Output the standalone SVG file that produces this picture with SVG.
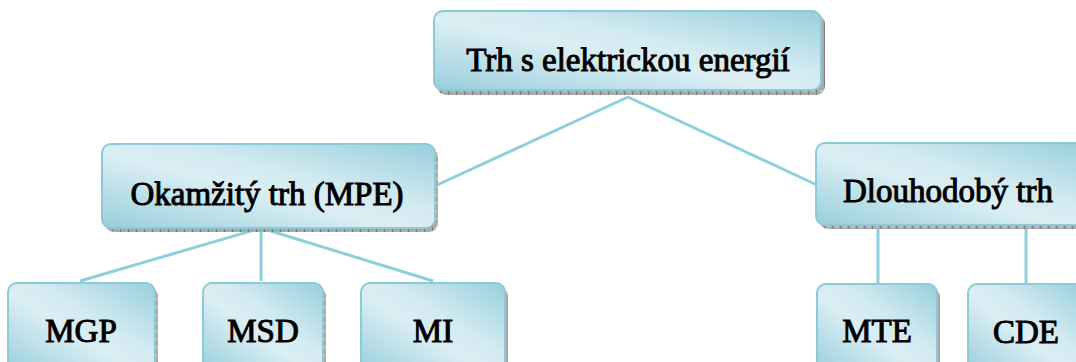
<svg xmlns="http://www.w3.org/2000/svg" width="1076" height="362" viewBox="0 0 1076 362">
<defs>
<linearGradient id="g" x1="0" y1="1" x2="1" y2="0">
<stop offset="0" stop-color="#98cedb"/>
<stop offset="0.45" stop-color="#dbeef4"/>
<stop offset="0.6" stop-color="#d3eaf1"/>
<stop offset="1" stop-color="#97cfdc"/>
</linearGradient>
<pattern id="sh" width="8" height="8" patternUnits="userSpaceOnUse">
<rect width="8" height="8" fill="#a9a9a9"/>
<rect x="0" width="1" height="8" fill="#7a7a7a"/>
<rect x="4" y="2" width="2" height="2" fill="#c4c4c4"/>
</pattern>
</defs>
<style>
.sh{fill:url(#sh)}
.bx{fill:url(#g);stroke:#8dcad8;stroke-width:2}
.c{stroke:#8ecfdc;stroke-width:3;fill:none}
</style>
<g id="connectors">
<line class="c" x1="628" y1="97" x2="437" y2="185"/>
<line class="c" x1="628" y1="97" x2="817" y2="185"/>
<line class="c" x1="261" y1="228" x2="80" y2="281"/>
<line class="c" x1="261" y1="228" x2="261" y2="281"/>
<line class="c" x1="261" y1="228" x2="433" y2="281"/>
<line class="c" x1="878" y1="228" x2="878" y2="283"/>
<line class="c" x1="1026" y1="228" x2="1026" y2="283"/>
</g>
<g id="n-top">
<rect class="sh" x="437" y="15" width="388" height="80" rx="9"/>
<rect class="bx" x="434" y="11" width="387" height="79" rx="9"/>
<text x="628" y="71" font-family="Liberation Serif" font-size="33" fill="#000" stroke="#000" stroke-width="1" text-anchor="middle">Trh s elektrickou energií</text>
</g>
<g id="n-okamzity">
<rect class="sh" x="105" y="148" width="333" height="84" rx="9"/>
<rect class="bx" x="102" y="144" width="333" height="84" rx="9"/>
<text x="267" y="205" font-family="Liberation Serif" font-size="33" fill="#000" stroke="#000" stroke-width="1" text-anchor="middle">Okamžitý trh (MPE)</text>
</g>
<g id="n-dlouhodoby">
<rect class="sh" x="819" y="147" width="270" height="82" rx="9"/>
<rect class="bx" x="816" y="143" width="270" height="82" rx="9"/>
<text x="948" y="202" font-family="Liberation Serif" font-size="33" fill="#000" stroke="#000" stroke-width="1" text-anchor="middle">Dlouhodobý trh</text>
</g>
<g id="n-mgp">
<rect class="sh" x="11" y="287" width="147" height="90" rx="9"/>
<rect class="bx" x="8" y="283" width="147" height="90" rx="9"/>
<text x="81" y="342" font-family="Liberation Serif" font-size="33" fill="#000" stroke="#000" stroke-width="1" text-anchor="middle">MGP</text>
</g>
<g id="n-msd">
<rect class="sh" x="206" y="287" width="120" height="90" rx="9"/>
<rect class="bx" x="203" y="283" width="120" height="90" rx="9"/>
<text x="263" y="342" font-family="Liberation Serif" font-size="33" fill="#000" stroke="#000" stroke-width="1" text-anchor="middle">MSD</text>
</g>
<g id="n-mi">
<rect class="sh" x="364" y="287" width="144" height="90" rx="9"/>
<rect class="bx" x="361" y="283" width="144" height="90" rx="9"/>
<text x="433" y="342" font-family="Liberation Serif" font-size="33" fill="#000" stroke="#000" stroke-width="1" text-anchor="middle">MI</text>
</g>
<g id="n-mte">
<rect class="sh" x="820" y="288" width="120" height="90" rx="9"/>
<rect class="bx" x="817" y="284" width="120" height="90" rx="9"/>
<text x="877" y="342" font-family="Liberation Serif" font-size="33" fill="#000" stroke="#000" stroke-width="1" text-anchor="middle">MTE</text>
</g>
<g id="n-cde">
<rect class="sh" x="971" y="288" width="116" height="90" rx="9"/>
<rect class="bx" x="968" y="284" width="116" height="90" rx="9"/>
<text x="1026" y="343" font-family="Liberation Serif" font-size="33" fill="#000" stroke="#000" stroke-width="1" text-anchor="middle">CDE</text>
</g>
</svg>
